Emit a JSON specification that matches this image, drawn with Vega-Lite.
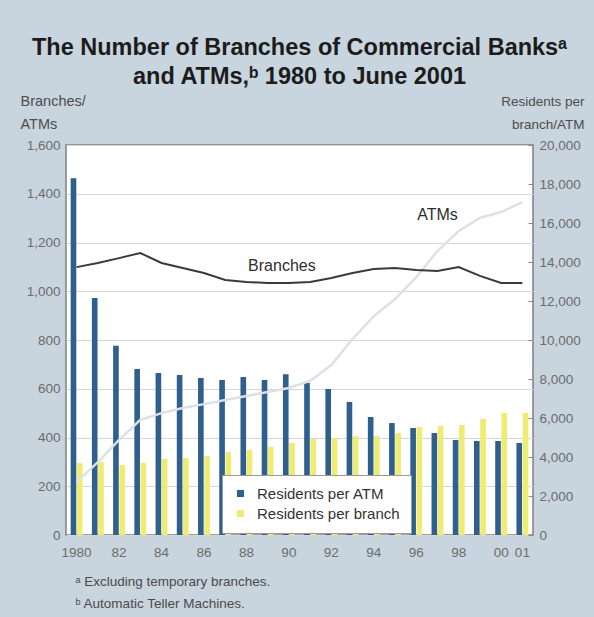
{
  "$schema": "https://vega.github.io/schema/vega-lite/v6.json",
  "width": 467,
  "height": 390,
  "autosize": {"type": "none"},
  "padding": {"left": 66, "top": 145, "right": 61, "bottom": 82},
  "background": "#c8d4de",
  "title": {
    "text": ["The Number of Branches of Commercial Banksᵃ", "and ATMs,ᵇ 1980 to June 2001"],
    "anchor": "middle",
    "frame": "group",
    "font": "Liberation Sans",
    "fontSize": 23.5,
    "fontWeight": "bold",
    "color": "#1c1c1c",
    "lineHeight": 29,
    "offset": 5
  },
  "config": {
    "view": {"fill": "white", "stroke": "#7f7f7f", "strokeWidth": 1.5},
    "font": "Liberation Sans"
  },
  "datasets": {
    "resid": [
      {"year": 1980, "series": "Residents per ATM", "value": 18300},
      {"year": 1981, "series": "Residents per ATM", "value": 12150},
      {"year": 1982, "series": "Residents per ATM", "value": 9700},
      {"year": 1983, "series": "Residents per ATM", "value": 8510},
      {"year": 1984, "series": "Residents per ATM", "value": 8310},
      {"year": 1985, "series": "Residents per ATM", "value": 8200},
      {"year": 1986, "series": "Residents per ATM", "value": 8050},
      {"year": 1987, "series": "Residents per ATM", "value": 7950},
      {"year": 1988, "series": "Residents per ATM", "value": 8100},
      {"year": 1989, "series": "Residents per ATM", "value": 7950},
      {"year": 1990, "series": "Residents per ATM", "value": 8250},
      {"year": 1991, "series": "Residents per ATM", "value": 7800},
      {"year": 1992, "series": "Residents per ATM", "value": 7490},
      {"year": 1993, "series": "Residents per ATM", "value": 6820},
      {"year": 1994, "series": "Residents per ATM", "value": 6050},
      {"year": 1995, "series": "Residents per ATM", "value": 5740},
      {"year": 1996, "series": "Residents per ATM", "value": 5490},
      {"year": 1997, "series": "Residents per ATM", "value": 5230},
      {"year": 1998, "series": "Residents per ATM", "value": 4870},
      {"year": 1999, "series": "Residents per ATM", "value": 4820},
      {"year": 2000, "series": "Residents per ATM", "value": 4820},
      {"year": 2001, "series": "Residents per ATM", "value": 4720},
      {"year": 1980, "series": "Residents per branch", "value": 3690},
      {"year": 1981, "series": "Residents per branch", "value": 3740},
      {"year": 1982, "series": "Residents per branch", "value": 3590},
      {"year": 1983, "series": "Residents per branch", "value": 3690},
      {"year": 1984, "series": "Residents per branch", "value": 3900},
      {"year": 1985, "series": "Residents per branch", "value": 3950},
      {"year": 1986, "series": "Residents per branch", "value": 4050},
      {"year": 1987, "series": "Residents per branch", "value": 4260},
      {"year": 1988, "series": "Residents per branch", "value": 4360},
      {"year": 1989, "series": "Residents per branch", "value": 4510},
      {"year": 1990, "series": "Residents per branch", "value": 4720},
      {"year": 1991, "series": "Residents per branch", "value": 4920},
      {"year": 1992, "series": "Residents per branch", "value": 4970},
      {"year": 1993, "series": "Residents per branch", "value": 5080},
      {"year": 1994, "series": "Residents per branch", "value": 5080},
      {"year": 1995, "series": "Residents per branch", "value": 5230},
      {"year": 1996, "series": "Residents per branch", "value": 5540},
      {"year": 1997, "series": "Residents per branch", "value": 5590},
      {"year": 1998, "series": "Residents per branch", "value": 5640},
      {"year": 1999, "series": "Residents per branch", "value": 5950},
      {"year": 2000, "series": "Residents per branch", "value": 6260},
      {"year": 2001, "series": "Residents per branch", "value": 6260}
    ],
    "counts": [
      {"year": 1980, "series": "Branches", "value": 1099},
      {"year": 1981, "series": "Branches", "value": 1116},
      {"year": 1982, "series": "Branches", "value": 1136},
      {"year": 1983, "series": "Branches", "value": 1157},
      {"year": 1984, "series": "Branches", "value": 1116},
      {"year": 1985, "series": "Branches", "value": 1095},
      {"year": 1986, "series": "Branches", "value": 1075},
      {"year": 1987, "series": "Branches", "value": 1046},
      {"year": 1988, "series": "Branches", "value": 1038},
      {"year": 1989, "series": "Branches", "value": 1034},
      {"year": 1990, "series": "Branches", "value": 1034},
      {"year": 1991, "series": "Branches", "value": 1038},
      {"year": 1992, "series": "Branches", "value": 1054},
      {"year": 1993, "series": "Branches", "value": 1075},
      {"year": 1994, "series": "Branches", "value": 1091},
      {"year": 1995, "series": "Branches", "value": 1095},
      {"year": 1996, "series": "Branches", "value": 1087},
      {"year": 1997, "series": "Branches", "value": 1083},
      {"year": 1998, "series": "Branches", "value": 1099},
      {"year": 1999, "series": "Branches", "value": 1063},
      {"year": 2000, "series": "Branches", "value": 1034},
      {"year": 2001, "series": "Branches", "value": 1034},
      {"year": 1980, "series": "ATMs", "value": 217},
      {"year": 1981, "series": "ATMs", "value": 299},
      {"year": 1982, "series": "ATMs", "value": 390},
      {"year": 1983, "series": "ATMs", "value": 472},
      {"year": 1984, "series": "ATMs", "value": 500},
      {"year": 1985, "series": "ATMs", "value": 521},
      {"year": 1986, "series": "ATMs", "value": 537},
      {"year": 1987, "series": "ATMs", "value": 554},
      {"year": 1988, "series": "ATMs", "value": 570},
      {"year": 1989, "series": "ATMs", "value": 587},
      {"year": 1990, "series": "ATMs", "value": 603},
      {"year": 1991, "series": "ATMs", "value": 632},
      {"year": 1992, "series": "ATMs", "value": 697},
      {"year": 1993, "series": "ATMs", "value": 804},
      {"year": 1994, "series": "ATMs", "value": 898},
      {"year": 1995, "series": "ATMs", "value": 968},
      {"year": 1996, "series": "ATMs", "value": 1058},
      {"year": 1997, "series": "ATMs", "value": 1165},
      {"year": 1998, "series": "ATMs", "value": 1247},
      {"year": 1999, "series": "ATMs", "value": 1301},
      {"year": 2000, "series": "ATMs", "value": 1325},
      {"year": 2001, "series": "ATMs", "value": 1366}
    ],
    "labels": [
      {"year": 1990, "value": 1104, "text": "Branches"},
      {"year": 1997, "value": 1313, "text": "ATMs"}
    ]
  },
  "encoding": {
    "x": {
      "field": "year",
      "type": "ordinal",
      "scale": {"paddingInner": 0.44, "paddingOuter": 0.22},
      "axis": {
        "labelAngle": 0,
        "labelExpr": "datum.value == 1980 ? '1980' : ((datum.value % 2 == 0 || datum.value == 2001) ? substring(toString(datum.value), 2) : '')",
        "labelOverlap": false,
        "ticks": false,
        "domain": false,
        "grid": false,
        "labelFont": "Liberation Sans",
        "labelFontSize": 13.5,
        "labelColor": "#6c6c6c",
        "labelPadding": 10,
        "title": ["ᵃ Excluding temporary branches.", "ᵇ Automatic Teller Machines."],
        "titleAlign": "left",
        "titleAnchor": "start",
        "titleX": 9,
        "titleY": 50,
        "titleBaseline": "alphabetic",
        "titleFont": "Liberation Sans",
        "titleFontSize": 13.5,
        "titleFontWeight": "normal",
        "titleColor": "#4a4a4a",
        "titleLineHeight": 22
      }
    }
  },
  "layer": [
    {
      "data": {"name": "resid"},
      "mark": {"type": "bar"},
      "encoding": {
        "xOffset": {"field": "series", "type": "nominal", "scale": {"paddingInner": 0.1}},
        "y": {
          "field": "value",
          "type": "quantitative",
          "scale": {"domain": [0, 20000], "nice": false},
          "axis": {
            "orient": "right",
            "values": [0, 2000, 4000, 6000, 8000, 10000, 12000, 14000, 16000, 18000, 20000],
            "format": ",.0f",
            "grid": false,
            "domain": false,
            "tickSize": -5,
            "tickColor": "#8a8a8a",
            "labelPadding": 11,
            "labelFont": "Liberation Sans",
            "labelFontSize": 13.5,
            "labelColor": "#6c6c6c",
            "title": ["Residents per", "branch/ATM"],
            "titleAngle": 0,
            "titleAlign": "right",
            "titleX": 51,
            "titleY": -40,
            "titleBaseline": "alphabetic",
            "titleFont": "Liberation Sans",
            "titleFontSize": 13.5,
            "titleFontWeight": "normal",
            "titleColor": "#4d4d4d",
            "titleLineHeight": 23
          }
        },
        "color": {
          "field": "series",
          "type": "nominal",
          "scale": {"domain": ["Residents per ATM", "Residents per branch"], "range": ["#2f5f8c", "#eeec72"]},
          "legend": {
            "title": null,
            "orient": "none",
            "legendX": 156,
            "legendY": 330,
            "fillColor": "white",
            "strokeColor": "#9a9a9a",
            "padding": 11,
            "symbolType": "square",
            "symbolSize": 50,
            "symbolStrokeWidth": 0,
            "labelFont": "Liberation Sans",
            "labelFontSize": 15,
            "labelColor": "#333333",
            "labelOffset": 9,
            "labelLimit": 250,
            "rowPadding": 4
          }
        }
      }
    },
    {
      "data": {"name": "counts"},
      "encoding": {
        "y": {
          "field": "value",
          "type": "quantitative",
          "scale": {"domain": [0, 1600], "nice": false},
          "axis": {
            "orient": "left",
            "values": [0, 200, 400, 600, 800, 1000, 1200, 1400, 1600],
            "format": ",.0f",
            "grid": true,
            "gridColor": "#d6d6d6",
            "ticks": false,
            "domain": false,
            "labelPadding": 6,
            "labelFont": "Liberation Sans",
            "labelFontSize": 13.5,
            "labelColor": "#6c6c6c",
            "title": ["Branches/", "ATMs"],
            "titleAngle": 0,
            "titleAlign": "left",
            "titleX": -46,
            "titleY": -40,
            "titleBaseline": "alphabetic",
            "titleFont": "Liberation Sans",
            "titleFontSize": 14.5,
            "titleFontWeight": "normal",
            "titleColor": "#4d4d4d",
            "titleLineHeight": 23
          }
        }
      },
      "layer": [
        {
          "transform": [{"filter": "datum.series == 'ATMs'"}],
          "mark": {"type": "line", "color": "#dce1e7", "strokeWidth": 2.5}
        },
        {
          "transform": [{"filter": "datum.series == 'Branches'"}],
          "mark": {"type": "line", "color": "#3a3a3a", "strokeWidth": 2}
        },
        {
          "data": {"name": "labels"},
          "transform": [{"filter": "datum.text == 'Branches'"}],
          "mark": {"type": "text", "font": "Liberation Sans", "fontSize": 16, "color": "#2e2e2e", "dx": -7},
          "encoding": {"text": {"field": "text"}}
        },
        {
          "data": {"name": "labels"},
          "transform": [{"filter": "datum.text == 'ATMs'"}],
          "mark": {"type": "text", "font": "Liberation Sans", "fontSize": 16, "color": "#2e2e2e"},
          "encoding": {"text": {"field": "text"}}
        }
      ]
    }
  ],
  "resolve": {"scale": {"y": "independent"}}
}
